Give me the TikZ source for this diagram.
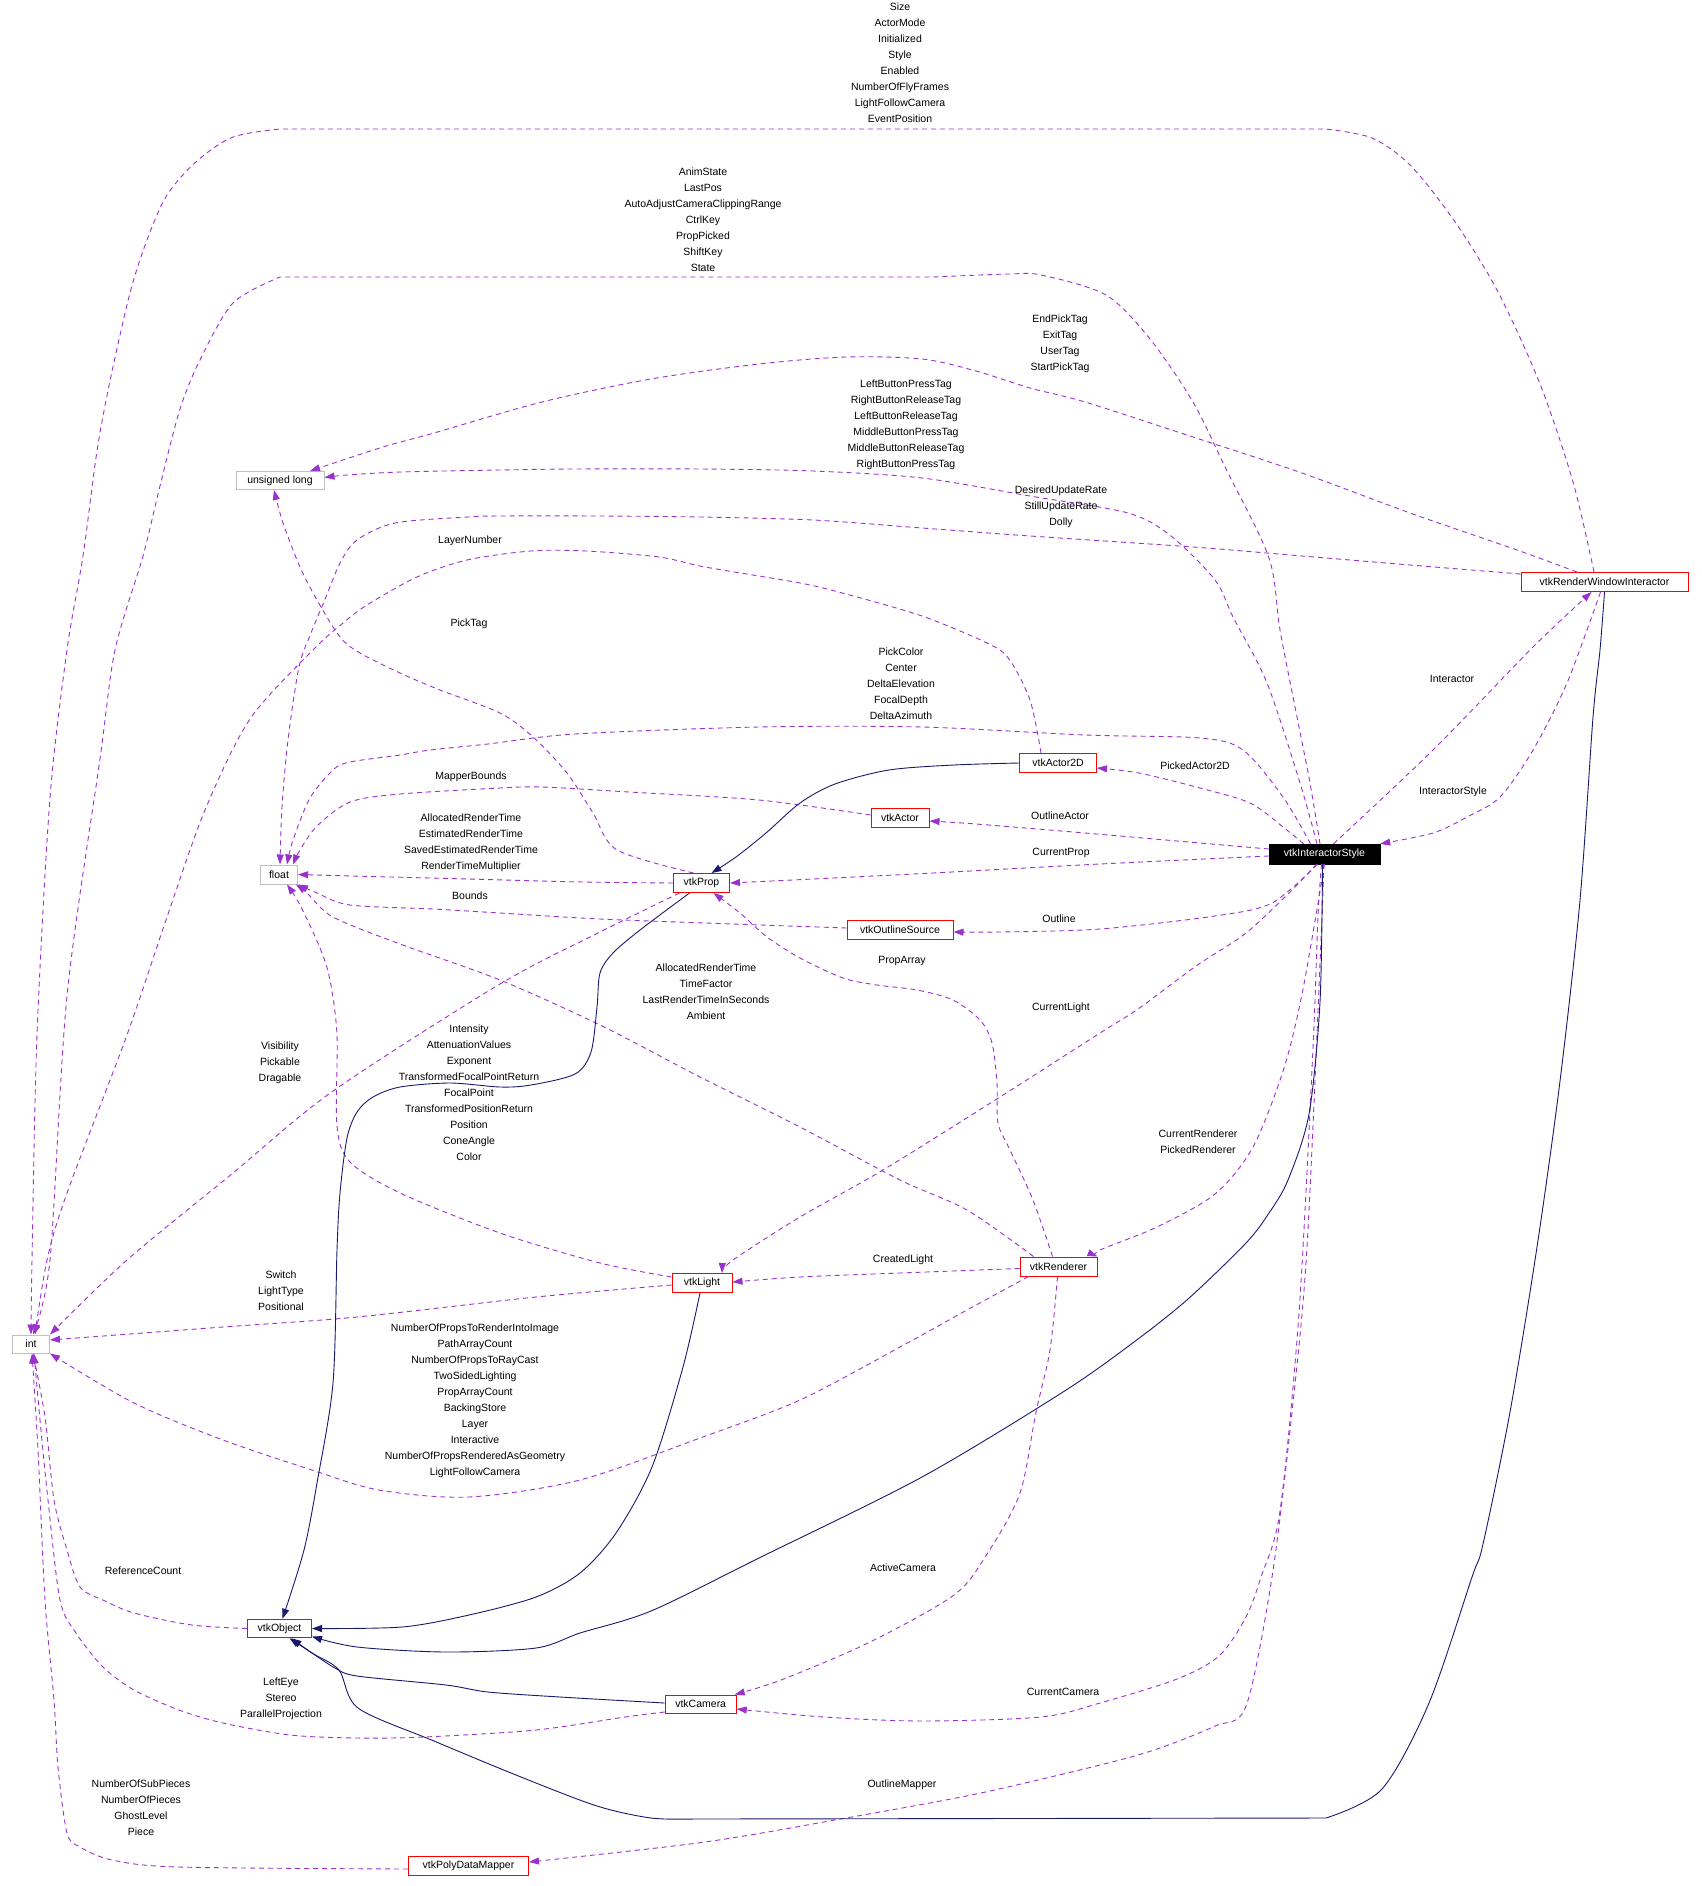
\documentclass[tikz,border=0pt]{standalone}
\usepackage{fontspec}
\setmainfont{Liberation Sans}
\usetikzlibrary{arrows.meta}
\definecolor{edgepurple}{HTML}{9A32CD}
\definecolor{edgenavy}{HTML}{191970}
\definecolor{boxgray}{HTML}{BFBFBF}
\newcommand\lblfont{\fontsize{10.5}{16}\selectfont}
\tikzset{
  cls/.style={draw=red, line width=1pt, rectangle, inner sep=0pt, minimum height=19pt, font=\lblfont},
  prim/.style={draw=boxgray, line width=1pt, rectangle, inner sep=0pt, minimum height=18pt, font=\lblfont},
  rootcls/.style={draw=black, fill=black, text=white, rectangle, inner sep=0pt, minimum height=20pt, font=\lblfont},
  mem/.style={draw=edgepurple, line width=0.9pt, dash pattern=on 5pt off 4pt, -{Triangle[length=10pt,width=7pt]}},
  inh/.style={draw=edgenavy, line width=0.9pt, -{Triangle[length=10pt,width=7pt]}},
  lbl/.style={font=\lblfont, align=center, inner sep=0pt},
  sm/.style={smooth, tension=0.5}
}
\begin{document}
\begin{tikzpicture}[x=1pt,y=-1pt]
\fill[white] (0,0) rectangle (1701,1886);
\useasboundingbox (0,0) rectangle (1701,1886);

% ---------- nodes ----------
\node[cls, minimum width=167pt] (rwi) at (1604.5,582) {vtkRenderWindowInteractor};
\node[rootcls, minimum width=111pt] (is) at (1324.5,854) {vtkInteractorStyle};
\node[prim, minimum width=88pt] (ul) at (280,480.5) {unsigned long};
\node[prim, minimum width=37pt, minimum height=19pt] (flt) at (279,874.5) {float};
\node[cls, minimum width=56pt] (prop) at (701.5,883) {vtkProp};
\node[prim, minimum width=37pt] (int) at (31,1344) {int};
\node[cls, minimum width=64pt, minimum height=18.5pt] (obj) at (279.5,1628.5) {vtkObject};
\node[cls, minimum width=60pt] (light) at (702,1283) {vtkLight};
\node[cls, minimum width=77pt] (rend) at (1058.5,1266.5) {vtkRenderer};
\node[cls, minimum width=71pt, minimum height=18pt] (cam) at (700.7,1704) {vtkCamera};
\node[cls, minimum width=120pt] (pdm) at (468.5,1866) {vtkPolyDataMapper};
\node[cls, minimum width=77pt] (a2d) at (1058,763) {vtkActor2D};
\node[cls, minimum width=58pt] (actor) at (900,818) {vtkActor};
\node[cls, minimum width=106pt] (os) at (900,930) {vtkOutlineSource};

% ---------- usage edges (dashed) ----------
% Size ... -> int
\draw[mem] plot[sm] coordinates {([xshift=-10.5pt]rwi.north) (1573,482) (1540,384) (1497,290) (1453,219) (1410,165) (1372,138) (1326,129)}
  -- plot[sm] coordinates {(280,129) (233,137) (197,161) (167,195) (147,240) (130,293) (110,381) (97,451) (83,556) (67,650) (50,798) (37,1035) (32,1260) (int.north)};
% AnimState ... -> int
\draw[mem] plot[sm] coordinates {([xshift=-4.5pt]is.north) (1310,783) (1297,717) (1280,630) (1269,558) (1226,469) (1193,402) (1150,339) (1106,295) (1041,275) (1009,274) (933,277)}
  -- plot[sm] coordinates {(280,277) (233,303) (200,360) (180,409) (160,486) (143,556) (115,650) (100,759) (67,996) (50,1260) ([xshift=2pt]int.north)};
% EndPickTag ... -> unsigned long
\draw[mem] plot[sm] coordinates {([xshift=-27.5pt]rwi.north) (1517,550) (1410,513) (1302,473) (1193,437) (1085,402) (1030,388) (976,371) (922,359) (846,357) (759,364) (651,379) (542,402) (434,433) (383,447) ([xshift=30pt]ul.north)};
% LeftButtonPressTag ... -> unsigned long
\draw[mem] plot[sm] coordinates {([xshift=-7.5pt]is.north) (1300,783) (1267,683) (1233,617) (1215,580) (1171,536) (1128,513) (1030,496) (922,478) (813,471) (700,469) (575,469) (500,470) (400,472) (347,475) ([yshift=3pt]ul.east)};
% DesiredUpdateRate ... -> float
\draw[mem] plot[sm] coordinates {([yshift=8pt]rwi.west) (1410,565) (1302,556) (1193,547) (1030,536) (922,528) (813,520) (700,517) (597,516) (500,516) (468,517) (395,523) (357,540) (340,563) (326,597) (311,633) (299,667) (288,740) (282,807) ([xshift=1pt]flt.north)};
% LayerNumber -> int
\draw[mem] plot[sm] coordinates {([xshift=-17pt]a2d.north) (1030,700) (1009,659) (987,643) (922,616) (846,594) (800,583) (705,567) (659,557) (586,551) (531,551) (467,560) (417,577) (367,605) (343,623) (313,650) (250,719) (205,810) (167,917) (127,1035) (67,1193) (47,1260) ([xshift=4pt]int.north)};
% PickTag -> unsigned long
\draw[mem] plot[sm] coordinates {([xshift=-8pt]prop.north) (617,850) (593,813) (567,773) (533,737) (500,713) (440,690) (400,673) (360,653) (340,637) (317,600) (300,567) (283,523) ([xshift=-6pt]ul.south)};
% PickColor ... -> float
\draw[mem] plot[sm] coordinates {([xshift=-14pt]is.north) (1283,797) (1243,750) (1200,738) (1085,735) (922,727) (759,727) (575,734) (488,744) (430,750) (400,755) (350,762) (333,770) (310,798) (293,840) ([xshift=8pt]flt.north)};
% MapperBounds -> float
\draw[mem] plot[sm] coordinates {([yshift=3pt]actor.west) (759,800) (629,792) (542,787) (500,788) (400,794) (350,802) (317,826) (300,850) ([xshift=14pt]flt.north)};
% AllocatedRenderTime ... (vtkProp) -> float
\draw[mem] plot[sm] coordinates {(prop.west) (583,882) (468,879) (353,876) (flt.east)};
% Bounds -> float
\draw[mem] plot[sm] coordinates {([yshift=2pt]os.west) (733,924) (600,919) (500,913) (433,909) (350,905) (317,893) (flt.south east)};
% PickedActor2D
\draw[mem] plot[sm] coordinates {([xshift=-21pt]is.north) (1283,827) (1250,803) (1200,788) (1139,773) ([yshift=-5pt]a2d.east)};
% OutlineActor
\draw[mem] plot[sm] coordinates {([yshift=5pt]is.west) (1085,833) (976,824) ([yshift=-3pt]actor.east)};
% CurrentProp
\draw[mem] plot[sm] coordinates {([yshift=-2pt]is.west) (1100,864) (933,873) (813,879) (prop.east)};
% Outline
\draw[mem] plot[sm] coordinates {([xshift=-7pt]is.south) (1272,903) (1215,916) (1100,929) (1000,932) ([yshift=-2pt]os.east)};
% Interactor
\draw[mem] plot[sm] coordinates {([xshift=9pt]is.north) (1433,750) (1533,647) ([xshift=-13pt]rwi.south)};
% InteractorStyle
\draw[mem] plot[sm] coordinates {([xshift=-4pt]rwi.south) (1567,683) (1533,750) (1500,797) (1467,817) (1433,833) (is.north east)};
% CurrentLight
\draw[mem] plot[sm] coordinates {([xshift=-8pt]is.south) (1292,890) (1246,933) (1196,966) (1138,1009) (1100,1033) (1000,1097) (883,1170) (800,1217) (733,1260) ([xshift=20pt]light.north)};
% CurrentRenderer PickedRenderer
\draw[mem] plot[sm] coordinates {(is.south) (1303,989) (1284,1068) (1253,1147) (1215,1194) (1157,1227) (1100,1250) (rend.north east)};
% PropArray
\draw[mem] plot[sm] coordinates {([xshift=-6pt]rend.north) (1033,1200) (1010,1150) (998,1123) (997,1083) (992,1043) (980,1020) (953,1000) (917,990) (877,985) (843,978) (800,958) (767,937) (740,913) ([xshift=12pt]prop.south)};
% AllocatedRenderTime ... (vtkRenderer) -> float
\draw[mem] plot[sm] coordinates {([xshift=-25pt]rend.north) (967,1210) (900,1180) (800,1127) (700,1077) (600,1025) (500,980) (400,944) (333,917) (307,893) ([xshift=-2pt]flt.south east)};
% CreatedLight
\draw[mem] plot[sm] coordinates {([yshift=-2pt]rend.west) (900,1273) (800,1277) ([yshift=1pt]light.east)};
% Intensity ... -> float
\draw[mem] plot[sm] coordinates {([yshift=6pt]light.west) (600,1263) (500,1233) (400,1193) (350,1162) (337,1126) (337,1035) (330,980) (320,948) (300,905) ([xshift=8pt]flt.south)};
% Switch ... -> int
\draw[mem] plot[sm] coordinates {([yshift=-2pt]light.west) (536,1297) (357,1317) (223,1327) ([yshift=4pt]int.east)};
% NumberOfPropsToRenderIntoImage ... -> int
\draw[mem] plot[sm] coordinates {([xshift=-30pt]rend.south) (967,1310) (900,1347) (800,1400) (700,1438) (580,1480) (469,1497) (379,1490) (312,1470) (223,1440) (134,1403) (int.south east)};
% Visibility ... -> int
\draw[mem] plot[sm] coordinates {([xshift=-22pt]prop.south) (600,932) (500,984) (333,1091) (233,1173) (127,1260) (int.north east)};
% ReferenceCount -> int
\draw[mem] plot[sm] coordinates {(obj.west) (192,1625) (134,1613) (103,1600) (80,1587) (67,1550) (54,1500) (45,1417) ([xshift=2pt]int.south)};
% LeftEye ... -> int
\draw[mem] plot[sm] coordinates {([yshift=-8pt]cam.west) (625,1717) (536,1730) (424,1737) (357,1738) (290,1735) (223,1723) (179,1710) (134,1690) (103,1667) (76,1633) (60,1600) (48,1500) (40,1420) ([xshift=3pt]int.south)};
% NumberOfSubPieces ... -> int
\draw[mem] plot[sm] coordinates {([yshift=-3pt]pdm.west) (179,1867) (112,1860) (80,1847) (67,1833) (58,1767) (54,1700) (45,1600) (38,1450) ([xshift=1pt]int.south)};
% ActiveCamera
\draw[mem] plot[sm] coordinates {([xshift=-1pt]rend.south) (1050,1350) (1036,1412) (1020,1493) (987,1554) (954,1595) (868,1643) (781,1680) ([xshift=-2pt]cam.north east)};
% CurrentCamera
\draw[mem] plot[sm] coordinates {([xshift=-3pt]is.south) (1318,916) (1313,1048) (1299,1313) (1280,1511) (1261,1577) (1246,1617) (1219,1656) (1177,1679) (1100,1703) (1041,1717) (922,1721) (824,1717) ([yshift=-5pt]cam.east)};
% OutlineMapper
\draw[mem] plot[sm] coordinates {([xshift=-1pt]is.south) (1322,916) (1307,1247) (1292,1412) (1272,1577) (1246,1706) (1215,1726) (1157,1749) (1100,1765) (976,1794) (846,1818) (705,1842) ([yshift=4pt]pdm.east)};

% ---------- inheritance edges (solid) ----------
\draw[inh] plot[sm] coordinates {(a2d.west) (954,765) (889,770) (835,784) (800,803) (766,833) (736,857) ([xshift=10pt]prop.north)};
\draw[inh] plot[sm] coordinates {([xshift=-12pt]prop.south) (640,930) (613,953) (600,973) (597,1007) (591,1052) (575,1074) (531,1085) (500,1087) (450,1083) (400,1087) (373,1097) (357,1112) (347,1138) (340,1193) (337,1250) (333,1383) (317,1483) (304,1550) ([xshift=3pt]obj.north)};
\draw[inh] plot[sm] coordinates {([xshift=-2pt]light.south) (683,1367) (652,1467) (616,1533) (580,1573) (536,1597) (469,1615) (402,1627) (obj.east)};
\draw[inh] plot[sm] coordinates {([xshift=-2pt]is.south) (1320,1002) (1309,1114) (1288,1180) (1269,1213) (1246,1243) (1188,1299) (1134,1342) (1063,1392) (922,1477) (759,1558) (651,1611) (580,1633) (536,1648) (446,1652) (357,1647) ([yshift=-8pt]obj.east)};
\draw[inh] plot[sm] coordinates {([yshift=1pt]cam.west) (560,1697) (488,1692) (446,1685) (357,1676) (335,1668) (312,1653) ([xshift=10pt]obj.south)};
\draw[inh] plot[sm] coordinates {(rwi.south) (1600,650) (1593,717) (1580,900) (1560,1081) (1537,1247) (1510,1412) (1483,1544) (1472,1577) (1429,1703) (1382,1789) (1326,1818)}
  -- plot[sm] coordinates {(694,1819) (651,1818) (597,1806) (521,1777) (434,1741) (358,1708) (339,1670) (312,1653) ([xshift=12pt]obj.south)};

% ---------- labels ----------
\node[lbl] (l1) at (900,63) {Size\\ActorMode\\Initialized\\Style\\Enabled\\NumberOfFlyFrames\\LightFollowCamera\\EventPosition};
\node[lbl] (l2) at (703,220) {AnimState\\LastPos\\AutoAdjustCameraClippingRange\\CtrlKey\\PropPicked\\ShiftKey\\State};
\node[lbl] (l3) at (1060,344) {EndPickTag\\ExitTag\\UserTag\\StartPickTag};
\node[lbl] (l4) at (906,425) {LeftButtonPressTag\\RightButtonReleaseTag\\LeftButtonReleaseTag\\MiddleButtonPressTag\\MiddleButtonReleaseTag\\RightButtonPressTag};
\node[lbl] (l5) at (1061,507) {DesiredUpdateRate\\StillUpdateRate\\Dolly};
\node[lbl] (l6) at (470,541) {LayerNumber};
\node[lbl] (l7) at (469,624) {PickTag};
\node[lbl] (l8) at (901,684) {PickColor\\Center\\DeltaElevation\\FocalDepth\\DeltaAzimuth};
\node[lbl] (l9) at (471,777) {MapperBounds};
\node[lbl] (l10) at (471,843) {AllocatedRenderTime\\EstimatedRenderTime\\SavedEstimatedRenderTime\\RenderTimeMultiplier};
\node[lbl] (l11) at (470,896) {Bounds};
\node[lbl] (l12) at (1195,766) {PickedActor2D};
\node[lbl] (l13) at (1060,816) {OutlineActor};
\node[lbl] (l14) at (1061,853) {CurrentProp};
\node[lbl] (l15) at (1059,919) {Outline};
\node[lbl] (l16) at (902,961) {PropArray};
\node[lbl] (l17) at (1061,1008) {CurrentLight};
\node[lbl] (l18) at (706,992) {AllocatedRenderTime\\TimeFactor\\LastRenderTimeInSeconds\\Ambient};
\node[lbl] (l19) at (280,1063) {Visibility\\Pickable\\Dragable};
\node[lbl] (l20) at (469,1093) {Intensity\\AttenuationValues\\Exponent\\TransformedFocalPointReturn\\FocalPoint\\TransformedPositionReturn\\Position\\ConeAngle\\Color};
\node[lbl] (l21) at (281,1291) {Switch\\LightType\\Positional};
\node[lbl] (l22) at (475,1401) {NumberOfPropsToRenderIntoImage\\PathArrayCount\\NumberOfPropsToRayCast\\TwoSidedLighting\\PropArrayCount\\BackingStore\\Layer\\Interactive\\NumberOfPropsRenderedAsGeometry\\LightFollowCamera};
\node[lbl] (l23) at (143,1571) {ReferenceCount};
\node[lbl] (l24) at (1198,1142) {CurrentRenderer\\PickedRenderer};
\node[lbl] (l25) at (903,1260) {CreatedLight};
\node[lbl] (l26) at (903,1568) {ActiveCamera};
\node[lbl] (l27) at (281,1699) {LeftEye\\Stereo\\ParallelProjection};
\node[lbl] (l28) at (1063,1692) {CurrentCamera};
\node[lbl] (l29) at (902,1785) {OutlineMapper};
\node[lbl] (l30) at (141,1808) {NumberOfSubPieces\\NumberOfPieces\\GhostLevel\\Piece};
\node[lbl] (l31) at (1452,679) {Interactor};
\node[lbl] (l32) at (1453,792) {InteractorStyle};
\end{tikzpicture}
\end{document}
